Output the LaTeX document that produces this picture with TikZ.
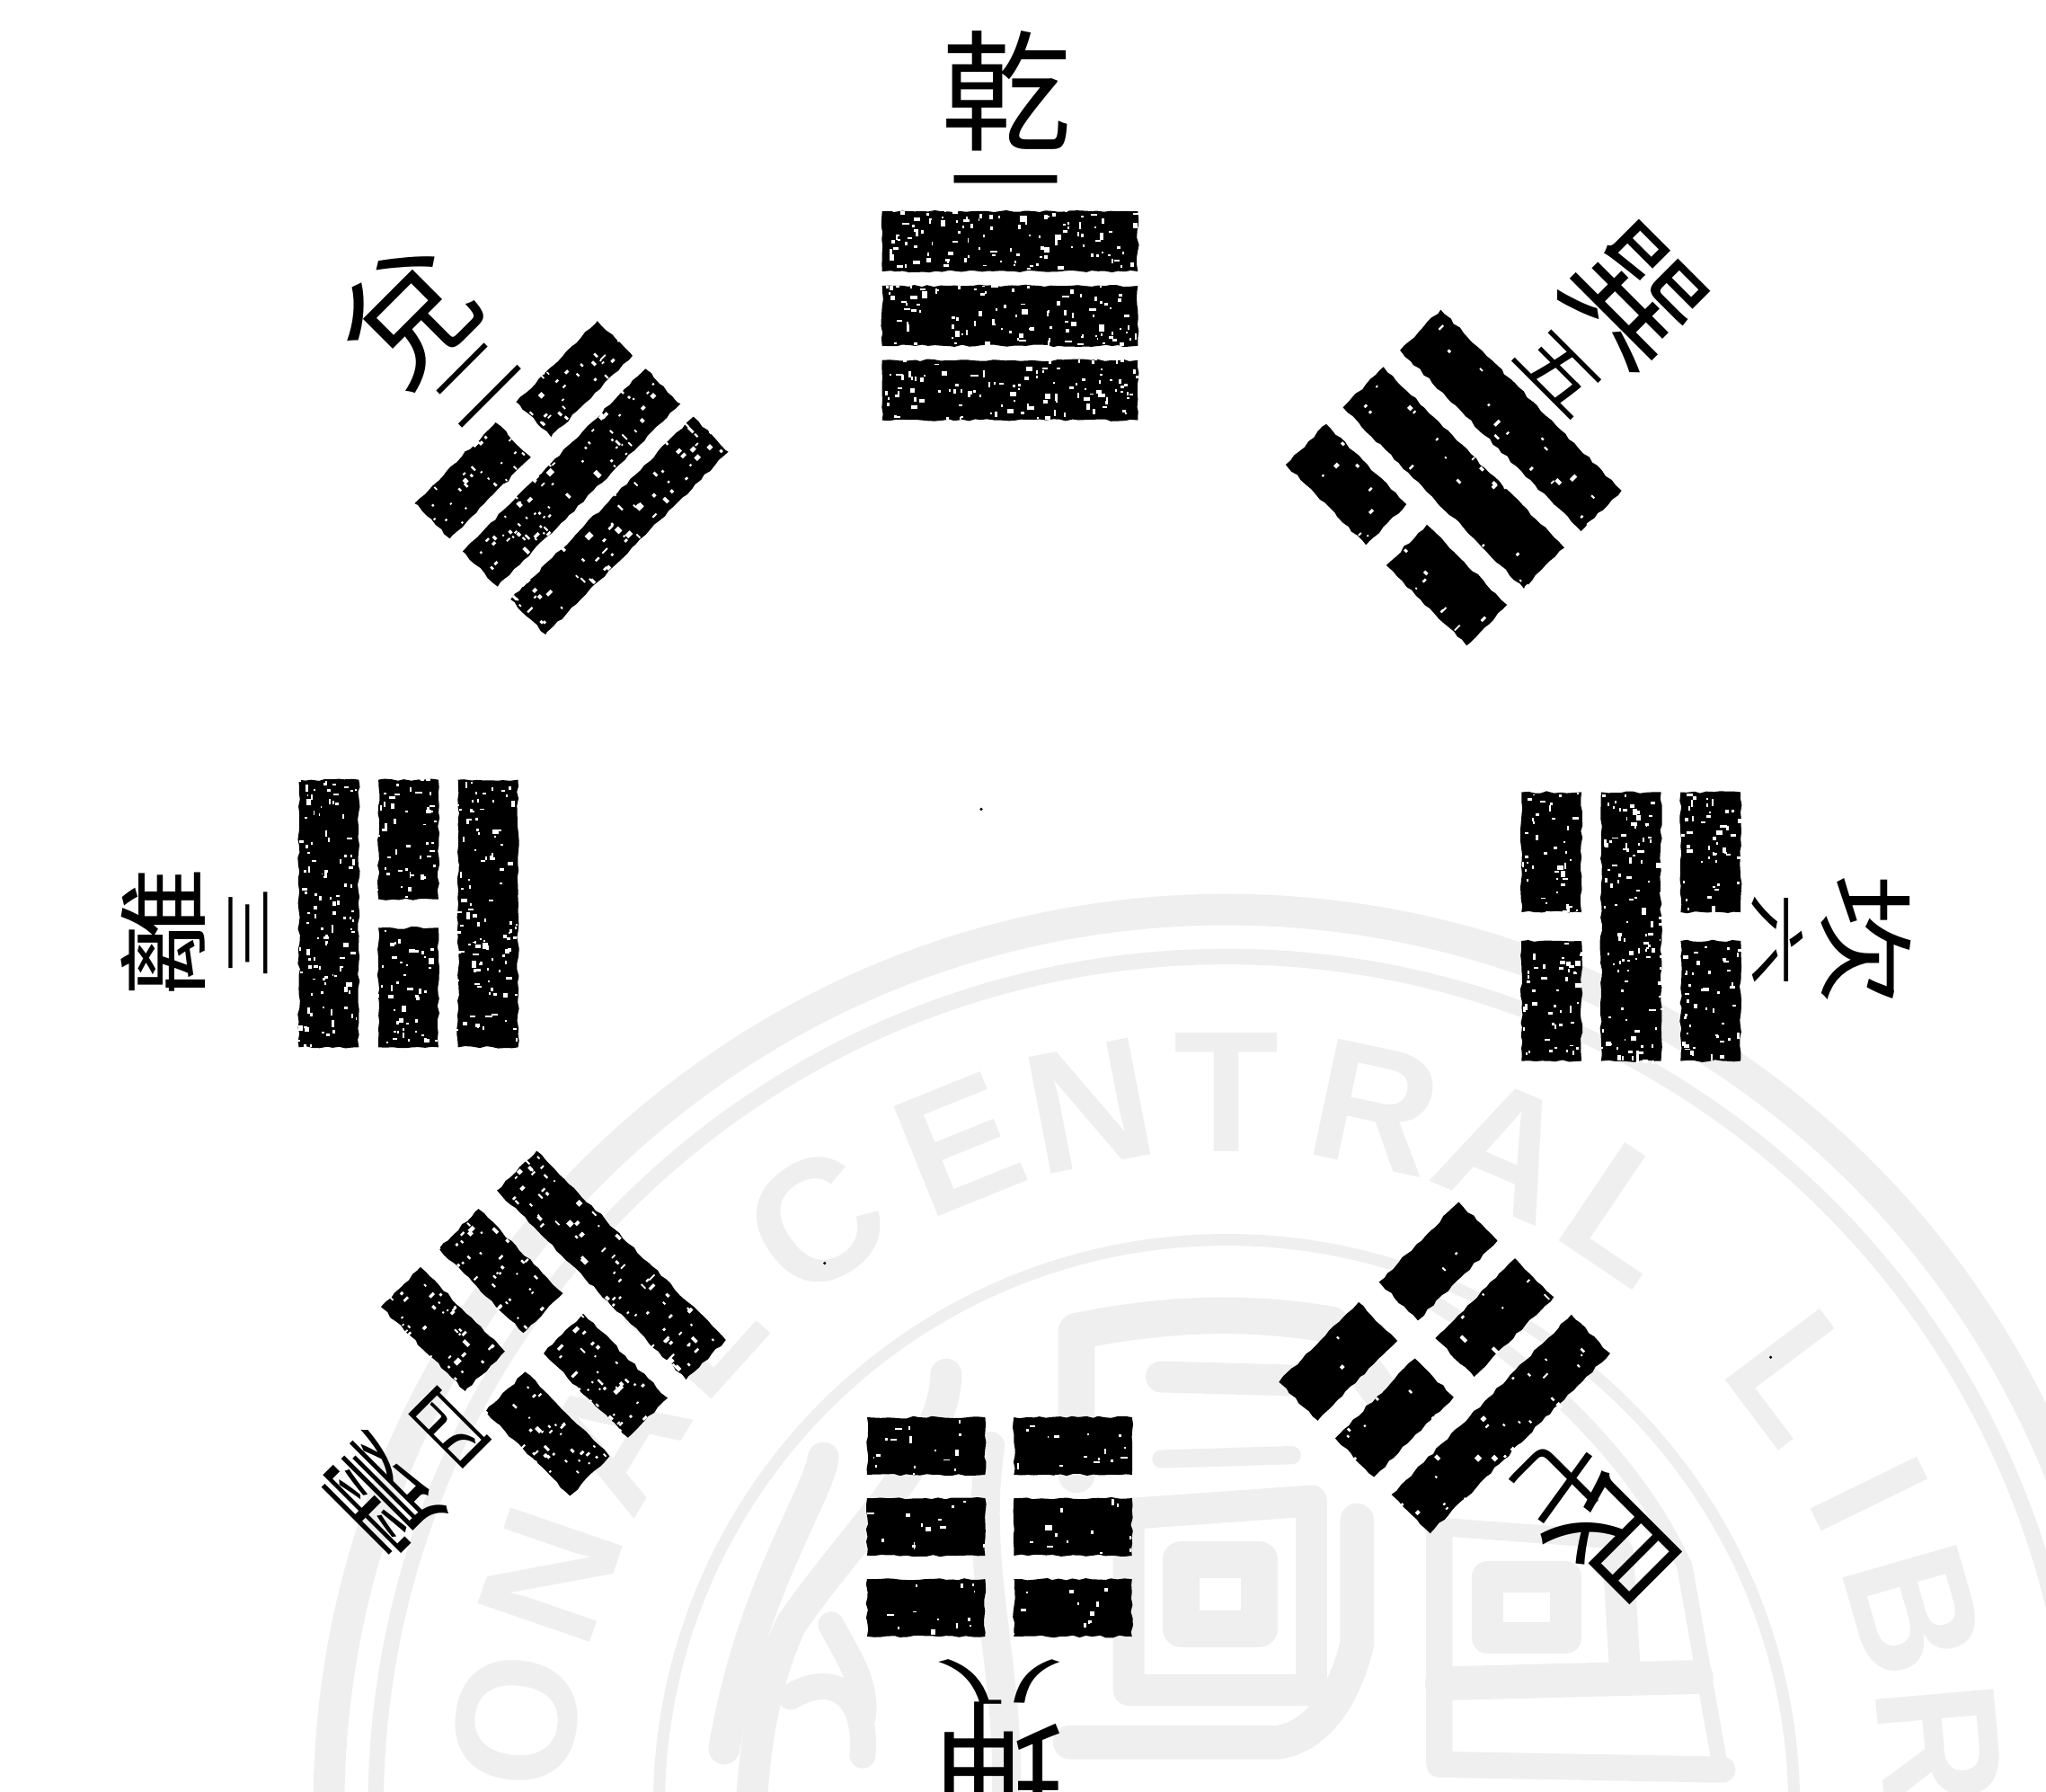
\documentclass[tikz,border=0pt]{standalone}
\usepackage{fontspec}
\usepackage{xcolor}
\usetikzlibrary{decorations.pathmorphing}
\newfontfamily\cjk{Noto Sans CJK TC}
\newfontfamily\sealfont{Liberation Sans}
\definecolor{sealgray}{HTML}{EFEFEF}
\tikzset{
  yaobar/.style={fill=black, decorate, decoration={random steps, segment length=5pt, amplitude=0.9pt}},
  bigchar/.style={font=\cjk\fontsize{100}{100}\selectfont, inner sep=0pt, text height=88pt, text depth=12pt, transform shape},
  numchar/.style={font=\cjk\fontsize{72}{72}\selectfont, inner sep=0pt, text height=63.4pt, text depth=8.6pt, transform shape},
  sealletter/.style={font=\sealfont\bfseries\fontsize{132}{132}\selectfont, text=sealgray, inner sep=0pt},
  sealstroke/.style={draw=sealgray, line width=#1, line cap=round, line join=round},
  sealstroke/.default=20pt
}
\newcommand{\setyao}[4]{\def\yaolen{#1}\def\yaothick{#2}\def\yaostep{#3}\def\yaogap{#4}}
% one bar: left end, right end, level, number of specks
\newcommand{\yaopiece}[4]{
  \pgfmathsetmacro{\ya}{#3*\yaostep-\yaothick/2}
  \pgfmathsetmacro{\yb}{#3*\yaostep+\yaothick/2}
  \fill[yaobar] (#1,\ya) rectangle (#2,\yb);
  \foreach \k in {1,...,#4}{
    \pgfmathsetmacro{\sx}{#1+rnd*(#2-#1)}
    \pgfmathsetmacro{\sy}{\ya+rnd*\yaothick}
    \pgfmathsetmacro{\sw}{1.2+5*rnd*rnd}
    \pgfmathsetmacro{\sh}{1.2+5*rnd*rnd}
    \fill[white] (\sx,\sy) rectangle ++(\sw,\sh);
  }
}
\newcommand{\yangline}[2]{
  \pgfmathsetmacro{\xa}{-\yaolen/2}
  \pgfmathsetmacro{\xb}{\yaolen/2}
  \yaopiece{\xa}{\xb}{#1}{#2}
}
\newcommand{\yinline}[2]{
  \pgfmathsetmacro{\xa}{-\yaolen/2}
  \pgfmathsetmacro{\xb}{-\yaogap/2}
  \pgfmathsetmacro{\xc}{\yaogap/2}
  \pgfmathsetmacro{\xd}{\yaolen/2}
  \yaopiece{\xa}{\xb}{#1}{#2}
  \yaopiece{\xc}{\xd}{#1}{#2}
}
\begin{document}
\begin{tikzpicture}[x=1pt,y=1pt]
\useasboundingbox (0,0) rectangle (1568,1373);
\clip (0,0) rectangle (1568,1373);
\pgfmathsetseed{1568}
% library seal
\begin{scope}[shift={(940,-12)}]
  \draw[sealstroke=24pt] (0,0) circle (688);
  \draw[sealstroke=12pt] (0,0) circle (652);
  \draw[sealstroke=9pt] (0,0) circle (435);
  \foreach \ch/\ang in {O/173,N/161,A/149,L/138,C/125,E/112,N/101,T/90,R/78,A/67,L/56,L/37,I/26,B/16,R/5}{
    \node[sealletter, rotate=\ang-90] (letter\ang) at (\ang:548) {\ch};
  }
\end{scope}
\begin{scope}[shift={(0,1373)}, yscale=-1]
  % middle glyph
  \draw[sealstroke=28pt] (825,1130) -- (825,1020) .. controls (900,1005) and (960,1005) .. (1020,1015) -- (1075,1090);
  \draw[sealstroke=24pt] (890,1055) -- (1000,1058);
  \draw[sealstroke=14pt] (890,1118) -- (990,1115);
  \draw[sealstroke=24pt] (865,1295) -- (865,1160) -- (1005,1150) -- (1005,1295) -- cycle;
  \draw[sealstroke=28pt] (905,1248) -- (905,1195) -- (965,1195) -- (965,1248) -- cycle;
  \draw[sealstroke=26pt] (1040,1165) -- (1040,1260) .. controls (1030,1300) and (1010,1330) .. (980,1335) -- (820,1335);
  % right glyph
  \draw[sealstroke=20pt] (1103,1175) -- (1103,1352) -- (1320,1356);
  \draw[sealstroke=26pt] (1105,1290) -- (1300,1285);
  \draw[sealstroke=24pt] (1140,1208) -- (1200,1208) -- (1200,1255) -- (1140,1255) -- cycle;
  \draw[sealstroke=24pt] (1240,1190) -- (1245,1275);
  \draw[sealstroke=12pt] (1075,985) .. controls (1160,1030) and (1250,1110) .. (1291,1200) -- (1319,1358);
  \draw[sealstroke=14pt] (1105,1170) -- (1240,1180);
  % left glyph
  \draw[sealstroke=24pt] (631,1117) .. controls (625,1150) and (575,1220) .. (555,1340);
  \draw[sealstroke=24pt] (725,1053) .. controls (725,1110) and (650,1180) .. (606,1245) .. controls (590,1280) and (580,1320) .. (576,1380);
  \draw[sealstroke=20pt] (606,1300) .. controls (640,1280) and (665,1300) .. (661,1345);
  \draw[sealstroke=20pt] (637,1245) .. controls (650,1270) and (665,1290) .. (661,1316);
  \draw[sealstroke=22pt] (759,1108) .. controls (745,1200) and (775,1280) .. (771,1380);
\end{scope}
% dust
\fill (752,753) circle (1.2);
\fill (632,405) circle (1.2);
\fill (1357,333) circle (1.2);
% qian, top
\begin{scope}[shift={(774,1131)}]
  \setyao{196}{46}{57}{22}
  \yangline{1}{110}
  \yangline{0}{100}
  \yangline{-1}{110}
  \node[bigchar] (qianName) at (-3,172) {乾};
  \node[numchar, xscale=1.2] (qianNum) at (-3,104) {一};
\end{scope}
% dui, upper left
\begin{scope}[shift={(438,1007)}, rotate=45]
  \setyao{198}{38}{52}{22}
  \yinline{1}{28}
  \yangline{0}{70}
  \yangline{-1}{60}
  \node[bigchar] (duiName) at (0,177) {兌};
  \node[numchar, yscale=0.7] (duiNum) at (0,104) {二};
\end{scope}
% li, left
\begin{scope}[shift={(313,673)}, rotate=90]
  \setyao{205}{46}{61}{22}
  \yangline{1}{110}
  \yinline{0}{45}
  \yangline{-1}{110}
  \node[bigchar, yscale=0.7] (liName) at (-15,188) {離};
  \node[numchar, yscale=0.55] (liNum) at (-15,123) {三};
\end{scope}
% zhen, lower left
\begin{scope}[shift={(424,359)}, rotate=135]
  \setyao{205}{43}{63}{22}
  \yinline{1}{35}
  \yinline{0}{35}
  \yangline{-1}{70}
  \node[bigchar, yscale=0.65] (zhenName) at (0,187) {震};
  \node[numchar, yscale=0.55] (zhenNum) at (0,113) {四};
\end{scope}
% kun, bottom
\begin{scope}[shift={(766,203)}, rotate=180]
  \setyao{203}{44}{62}{22}
  \yinline{1}{12}
  \yinline{0}{12}
  \yinline{-1}{16}
  \node[bigchar] (kunName) at (0,180) {坤};
  \node[numchar, xscale=1.4, yscale=0.55] (kunNum) at (0,120) {八};
\end{scope}
% gen, lower right
\begin{scope}[shift={(1107,325)}, rotate=225]
  \setyao{195}{42}{61}{22}
  \yangline{1}{25}
  \yinline{0}{7}
  \yinline{-1}{2}
  \node[bigchar, xscale=0.9] (genName) at (0,188) {艮};
  \node[numchar] (genNum) at (0,124) {七};
\end{scope}
% kan, right
\begin{scope}[shift={(1250,663)}, rotate=-90]
  \setyao{206}{46}{61}{22}
  \yinline{1}{45}
  \yangline{0}{110}
  \yinline{-1}{45}
  \node[bigchar, yscale=0.75] (kanName) at (10,180) {坎};
  \node[numchar, yscale=0.6] (kanNum) at (10,112) {六};
\end{scope}
% xun, upper right
\begin{scope}[shift={(1114,1007)}, rotate=-45]
  \setyao{196}{44}{62}{22}
  \yangline{1}{16}
  \yangline{0}{18}
  \yinline{-1}{8}
  \node[bigchar] (xunName) at (0,198) {巽};
  \node[numchar, yscale=0.7] (xunNum) at (0,115) {五};
\end{scope}
\end{tikzpicture}
\end{document}
